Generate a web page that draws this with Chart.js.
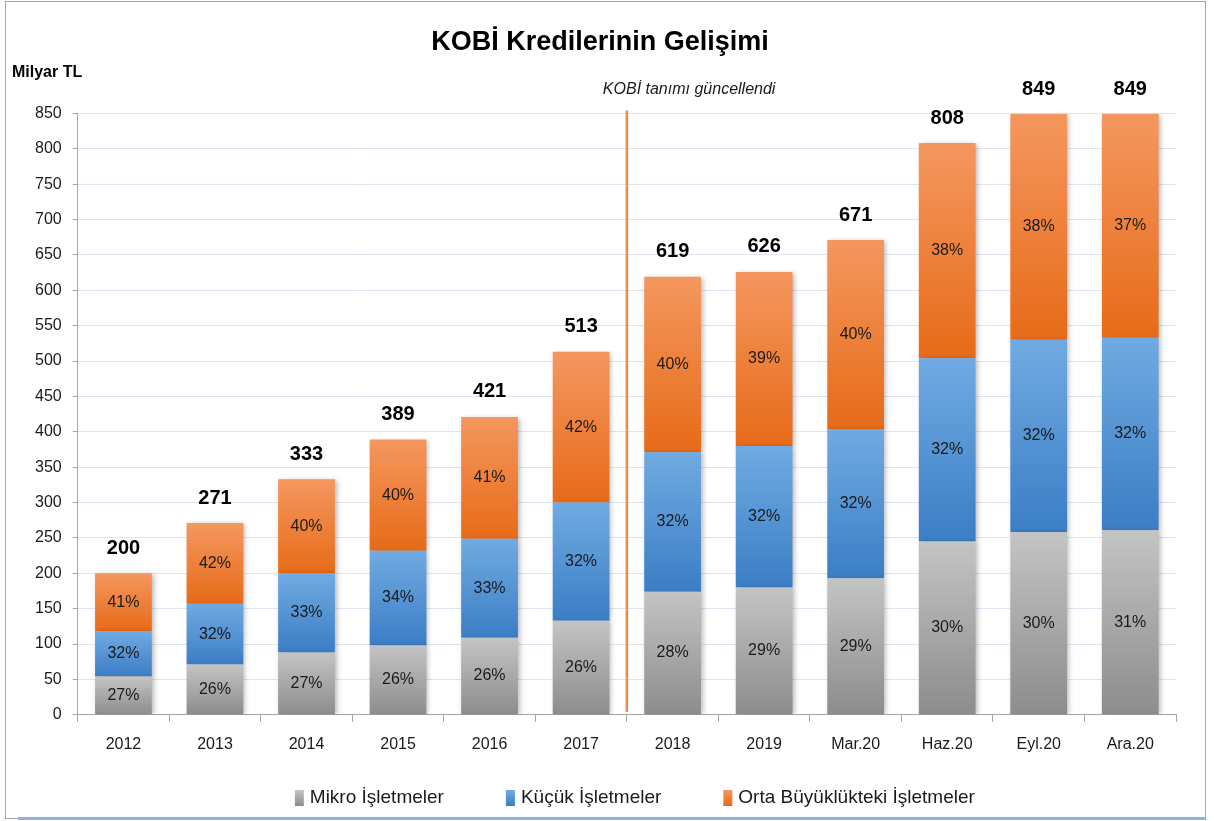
<!DOCTYPE html>
<html>
<head>
<meta charset="utf-8">
<title>KOBİ Kredilerinin Gelişimi</title>
<script src="https://cdn.jsdelivr.net/npm/chart.js@4.4.1/dist/chart.umd.min.js"></script>
<style>
  html, body { margin: 0; padding: 0; background: #fff; }
  #wrap { position: relative; width: 1214px; height: 821px; }
  #frame { position: absolute; left: 5px; top: 1px; width: 1201px; height: 818px; border: 1px solid #a6a6a6; box-sizing: border-box; }
  #blueLine { position: absolute; left: 18px; top: 817px; width: 1188px; height: 3px; background: #8db3e2; }
  canvas { position: absolute; left: 0; top: 0; }
</style>
</head>
<body>
<div id="wrap">
  <div id="frame"></div>
  <div id="blueLine"></div>
  <canvas id="kobiChart" width="1214" height="821"></canvas>
</div>
<script>
// values (Milyar TL)
const periods = ['2012', '2013', '2014', '2015', '2016', '2017', '2018', '2019', 'Mar.20', 'Haz.20', 'Eyl.20', 'Ara.20'];
const mikro = [54, 71, 88, 98, 109, 133, 174, 180, 193, 245, 258, 261];
const kucuk = [64, 86, 112, 134, 140, 167, 197, 200, 211, 259, 272, 272];
const orta = [82, 114, 133, 157, 172, 213, 248, 246, 267, 304, 319, 316];
const totals = [200, 271, 333, 389, 421, 513, 619, 626, 671, 808, 849, 849];

const mikroPct = ['27%', '26%', '27%', '26%', '26%', '26%', '28%', '29%', '29%', '30%', '30%', '31%'];
const kucukPct = ['32%', '32%', '33%', '34%', '33%', '32%', '32%', '32%', '32%', '32%', '32%', '32%'];
const ortaPct = ['41%', '42%', '40%', '40%', '41%', '42%', '40%', '39%', '40%', '38%', '38%', '37%'];

const yTicks = { min: 0, max: 850, step: 50 };
// the definition change sits between 2017 and 2018
const breakAfter = '2017';
const breakNote = 'KOBİ tanımı güncellendi';

const FONT = "'Liberation Sans', Arial, sans-serif";

// [light top, dark bottom] per series
const fills = [['#c4c4c4', '#8c8c8c'], ['#70aae2', '#3b7ec5'], ['#f4975f', '#e76b18']];

// vertical gradient per stacked segment, like the Excel fill
function segmentFill(light, dark) {
  return (ctx) => {
    const chart = ctx.chart;
    const y = chart.scales && chart.scales.y;
    if (ctx.type !== 'data' || !y || !chart.chartArea) return dark;
    const i = ctx.dataIndex;
    let base = 0;
    for (let k = 0; k < ctx.datasetIndex; k++) base += chart.data.datasets[k].data[i];
    const top = base + chart.data.datasets[ctx.datasetIndex].data[i];
    const y0 = y.getPixelForValue(top);
    const y1 = y.getPixelForValue(base);
    if (!isFinite(y0) || !isFinite(y1) || y0 === y1) return dark;
    const g = chart.ctx.createLinearGradient(0, y0, 0, y1);
    g.addColorStop(0, light);
    g.addColorStop(1, dark);
    return g;
  };
}

const barLabels = {
  id: 'barLabels',
  beforeDatasetsDraw(chart) {
    const c = chart.ctx;
    c.save();
    c.shadowColor = 'rgba(0,0,0,0.28)';
    c.shadowBlur = 5;
    c.shadowOffsetX = 2;
    c.shadowOffsetY = 1;
  },
  afterDatasetsDraw(chart) {
    const c = chart.ctx;
    c.restore();
    const { x, y } = chart.scales;
    const area = chart.chartArea;

    // percentages inside each segment
    const pctSets = [mikroPct, kucukPct, ortaPct];
    c.save();
    c.fillStyle = '#1a1a1a';
    c.textAlign = 'center';
    c.textBaseline = 'middle';
    c.font = '16px ' + FONT;
    chart.data.datasets.forEach((ds, d) => {
      const meta = chart.getDatasetMeta(d);
      meta.data.forEach((bar, i) => {
        c.fillText(pctSets[d][i], bar.x, (bar.y + bar.base) / 2);
      });
    });

    // totals above the stack
    c.font = 'bold 20px ' + FONT;
    c.fillStyle = '#000';
    totals.forEach((t, i) => {
      c.fillText(String(t), x.getPixelForValue(i), y.getPixelForValue(t) - 25);
    });

    // break line + note
    const bi = periods.indexOf(breakAfter);
    const lx = (x.getPixelForValue(bi) + x.getPixelForValue(bi + 1)) / 2;
    c.strokeStyle = '#f0884a';
    c.lineWidth = 2.5;
    c.beginPath();
    c.moveTo(lx, area.top - 3);
    c.lineTo(lx, y.getPixelForValue(4));
    c.stroke();
    c.fillStyle = '#1a1a1a';
    c.font = 'italic 16px ' + FONT;
    c.textAlign = 'left';
    c.fillText(breakNote, lx - 24, area.top - 24);

    // unit label
    c.fillStyle = '#000';
    c.font = 'bold 16px ' + FONT;
    c.fillText('Milyar TL', 12, area.top - 41);

    // legend row
    c.font = '19px ' + FONT;
    const boxW = 9, boxH = 16, textGap = 15, itemGap = 62;
    const items = chart.data.datasets.map((ds, d) => ({ label: ds.label, w: c.measureText(ds.label).width, fill: fills[d] }));
    const total = items.reduce((s, it) => s + textGap + it.w, 0) + itemGap * (items.length - 1);
    let lxPos = (area.left + area.right) / 2 + 8 - total / 2;
    const ly = 798;
    items.forEach((it) => {
      const g = c.createLinearGradient(0, ly - boxH / 2, 0, ly + boxH / 2);
      g.addColorStop(0, it.fill[0]);
      g.addColorStop(1, it.fill[1]);
      c.fillStyle = g;
      c.fillRect(lxPos, ly - boxH / 2, boxW, boxH);
      c.fillStyle = '#1a1a1a';
      c.fillText(it.label, lxPos + textGap, ly);
      lxPos += textGap + it.w + itemGap;
    });
    c.restore();
  }
};

new Chart(document.getElementById('kobiChart'), {
  type: 'bar',
  data: {
    labels: periods,
    datasets: [
      { label: 'Mikro İşletmeler', data: mikro, backgroundColor: segmentFill(fills[0][0], fills[0][1]) },
      { label: 'Küçük İşletmeler', data: kucuk, backgroundColor: segmentFill(fills[1][0], fills[1][1]) },
      { label: 'Orta Büyüklükteki İşletmeler', data: orta, backgroundColor: segmentFill(fills[2][0], fills[2][1]) }
    ]
  },
  options: {
    responsive: false,
    animation: false,
    devicePixelRatio: 1,
    layout: { padding: { left: 24, right: 38, top: 0, bottom: 54 } },
    datasets: { bar: { barPercentage: 0.62, categoryPercentage: 1.0, borderWidth: 0 } },
    plugins: {
      title: {
        display: true,
        text: 'KOBİ Kredilerinin Gelişimi',
        color: '#000',
        font: { family: FONT, size: 27, weight: 'bold' },
        padding: { top: 26, bottom: 55 }
      },
      legend: { display: false },
      tooltip: { enabled: false }
    },
    scales: {
      x: {
        stacked: true,
        grid: { display: true, drawOnChartArea: false, offset: true, tickLength: 7, color: '#a6a6a6' },
        border: { color: '#a6a6a6' },
        ticks: { color: '#1a1a1a', font: { family: FONT, size: 16 }, padding: 13 }
      },
      y: {
        stacked: true,
        min: yTicks.min,
        max: yTicks.max,
        grid: { color: '#dce6f2', tickColor: '#a6a6a6', tickLength: 5 },
        border: { color: '#a6a6a6' },
        ticks: { stepSize: yTicks.step, color: '#1a1a1a', font: { family: FONT, size: 16 }, padding: 11 }
      }
    }
  },
  plugins: [barLabels]
});
</script>
</body>
</html>
